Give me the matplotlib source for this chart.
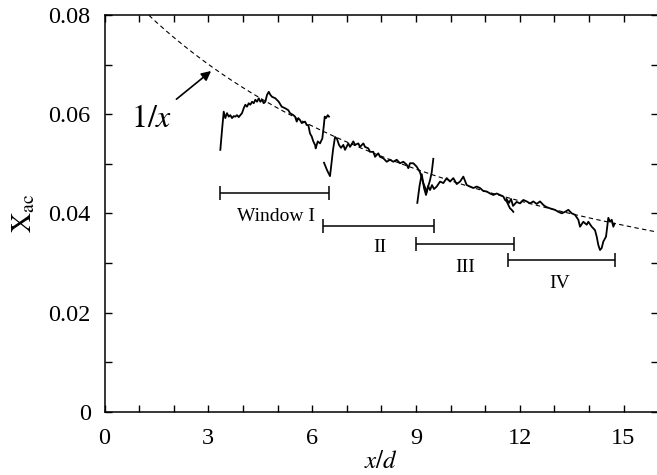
import matplotlib
matplotlib.use('Agg')
import matplotlib.pyplot as plt
import numpy as np

plt.rcParams['font.family'] = ['Liberation Serif', 'DejaVu Serif']
plt.rcParams['mathtext.fontset'] = 'stix'

# measured X_ac along x/d, one trace per sampling window
seg1_x = [3.347, 3.396, 3.445, 3.491, 3.540, 3.590, 3.636, 3.685, 3.734, 3.780,
          3.829, 3.879, 3.925, 3.974, 4.023, 4.069, 4.118, 4.168, 4.214, 4.263,
          4.312, 4.358, 4.408, 4.457, 4.503, 4.552, 4.601, 4.647, 4.697, 4.746,
          4.792, 4.841, 4.936, 5.035, 5.121, 5.217, 5.312, 5.361, 5.457, 5.506,
          5.555, 5.601, 5.650, 5.699, 5.795, 5.844, 5.890, 5.939, 5.988, 6.035,
          6.084, 6.104, 6.162, 6.228, 6.295, 6.335, 6.364, 6.402, 6.451, 6.488]
seg1_y = [0.0528, 0.0568, 0.0605, 0.0592, 0.0602, 0.0595, 0.0598, 0.0592, 0.0596, 0.0595,
          0.0598, 0.0594, 0.0598, 0.0602, 0.0612, 0.0619, 0.0615, 0.0622, 0.0619, 0.0625,
          0.0622, 0.0629, 0.0625, 0.0632, 0.0625, 0.0629, 0.0622, 0.0625, 0.0639, 0.0645,
          0.0639, 0.0635, 0.0632, 0.0625, 0.0615, 0.0612, 0.0608, 0.0602, 0.0598, 0.0595,
          0.0585, 0.0592, 0.0588, 0.0582, 0.0585, 0.0578, 0.0578, 0.0561, 0.0555, 0.0545,
          0.0538, 0.0531, 0.0545, 0.0541, 0.0551, 0.0575, 0.0595, 0.0592, 0.0598, 0.0595]

seg2_x = [6.344, 6.431, 6.517, 6.604, 6.662, 6.720, 6.777, 6.835, 6.902, 6.951,
          7.046, 7.095, 7.191, 7.240, 7.335, 7.384, 7.480, 7.529, 7.624, 7.673,
          7.769, 7.818, 7.913, 7.962, 8.058, 8.156, 8.251, 8.347, 8.445, 8.540,
          8.636, 8.734, 8.780, 8.829, 8.925, 9.023, 9.118, 9.214, 9.312, 9.358,
          9.408, 9.457, 9.503]
seg2_y = [0.0502, 0.0487, 0.0475, 0.0528, 0.0554, 0.0550, 0.0538, 0.0532, 0.0538, 0.0528,
          0.0541, 0.0534, 0.0545, 0.0538, 0.0541, 0.0534, 0.0541, 0.0534, 0.0531, 0.0524,
          0.0524, 0.0514, 0.0521, 0.0514, 0.0511, 0.0504, 0.0508, 0.0504, 0.0508, 0.0501,
          0.0504, 0.0498, 0.0491, 0.0501, 0.0501, 0.0494, 0.0483, 0.0461, 0.0443, 0.0455,
          0.0467, 0.0483, 0.0510]

seg3_x = [9.040, 9.104, 9.168, 9.234, 9.292, 9.350, 9.408, 9.465, 9.523, 9.601,
          9.697, 9.792, 9.890, 9.986, 10.081, 10.179, 10.275, 10.370, 10.468, 10.564,
          10.659, 10.757, 10.853, 10.948, 11.046, 11.142, 11.237, 11.335, 11.431, 11.526,
          11.575, 11.624, 11.671, 11.720, 11.769, 11.815]
seg3_y = [0.0421, 0.0455, 0.0479, 0.0451, 0.0437, 0.0455, 0.0447, 0.0457, 0.0449, 0.0454,
          0.0464, 0.0461, 0.0471, 0.0464, 0.0471, 0.0459, 0.0464, 0.0474, 0.0457, 0.0454,
          0.0451, 0.0454, 0.0451, 0.0445, 0.0444, 0.0440, 0.0437, 0.0440, 0.0437, 0.0434,
          0.0427, 0.0424, 0.0417, 0.0410, 0.0407, 0.0403]

seg4_x = [11.618, 11.691, 11.749, 11.806, 11.913, 12.009, 12.104, 12.202, 12.298, 12.393,
          12.491, 12.587, 12.682, 12.760, 12.876, 13.020, 13.116, 13.214, 13.309, 13.405,
          13.503, 13.598, 13.694, 13.743, 13.838, 13.936, 13.983, 14.081, 14.176, 14.225,
          14.272, 14.321, 14.370, 14.416, 14.494, 14.561, 14.610, 14.659, 14.705, 14.740]
seg4_y = [0.0429, 0.0421, 0.0429, 0.0415, 0.0423, 0.0420, 0.0427, 0.0424, 0.0420, 0.0424,
          0.0419, 0.0424, 0.0417, 0.0413, 0.0410, 0.0407, 0.0403, 0.0400, 0.0403, 0.0407,
          0.0400, 0.0397, 0.0387, 0.0373, 0.0383, 0.0377, 0.0383, 0.0373, 0.0366, 0.0353,
          0.0336, 0.0326, 0.0330, 0.0343, 0.0353, 0.0391, 0.0383, 0.0387, 0.0373, 0.0379]

# averaging windows (start, end, bar level, label, label position)
win_start = [3.35, 6.30, 9.00, 11.65]
win_end = [6.50, 9.52, 11.83, 14.75]
win_level = [0.0441, 0.0375, 0.0338, 0.0306]
win_label = ['Window I', 'II', 'III', 'IV']
win_label_x = [4.95, 7.95, 10.42, 13.15]
win_label_y = [0.0394, 0.0332, 0.0291, 0.0259]

# reference curve  X_ac = A / (x/d + x0)
fit_a = 0.973
fit_x0 = 10.89

fig = plt.figure(figsize=(6.57, 4.75), dpi=100)
ax = fig.add_axes([0.1591, 0.1333, 0.8426, 0.8352])

xs = np.linspace(0, 16, 400)
ax.plot(xs, fit_a / (xs + fit_x0), color='black', lw=0.8, linestyle=(0, (4, 3)))

for sx, sy in [(seg1_x, seg1_y), (seg2_x, seg2_y), (seg3_x, seg3_y), (seg4_x, seg4_y)]:
    ax.plot(sx, sy, color='black', lw=1.3)

for x0, x1, lev, lab, lx, ly in zip(win_start, win_end, win_level, win_label,
                                     win_label_x, win_label_y):
    ax.errorbar((x0 + x1) / 2, lev, xerr=(x1 - x0) / 2, fmt='none', ecolor='black',
                elinewidth=1.1, capsize=5, capthick=1.1)
    ax.text(lx, ly, lab, ha='center', va='center', fontsize=14)

ax.annotate(r'$1/x$', xy=(3.08, 0.0687), xytext=(1.37, 0.0590), ha='center', va='center',
            fontsize=23,
            arrowprops=dict(arrowstyle='-|>', color='black', lw=1.2, mutation_scale=14,
                            shrinkA=3, shrinkB=0))

ax.set_xlim(0, 16)
ax.set_ylim(0, 0.08)
ax.set_xticks([0, 3, 6, 9, 12, 15])
ax.set_xticks(np.arange(0, 17, 1), minor=True)
ax.set_yticks([0, 0.02, 0.04, 0.06, 0.08])
ax.set_yticklabels(['0', '0.02', '0.04', '0.06', '0.08'])
ax.set_yticks([0.01, 0.03, 0.05, 0.07], minor=True)
ax.tick_params(which='both', direction='in', top=True, right=True, length=5, width=1,
               labelsize=17.5)
ax.tick_params(axis='y', pad=10)
ax.tick_params(axis='x', pad=12)
for sp in ax.spines.values():
    sp.set_linewidth(1.1)

ax.set_xlabel(r'$x/d$', fontsize=18, labelpad=1)
ax.set_ylabel(r'$\mathrm{X}_{\mathrm{ac}}$', fontsize=20, labelpad=8)

fig.savefig('out.png', dpi=100)
